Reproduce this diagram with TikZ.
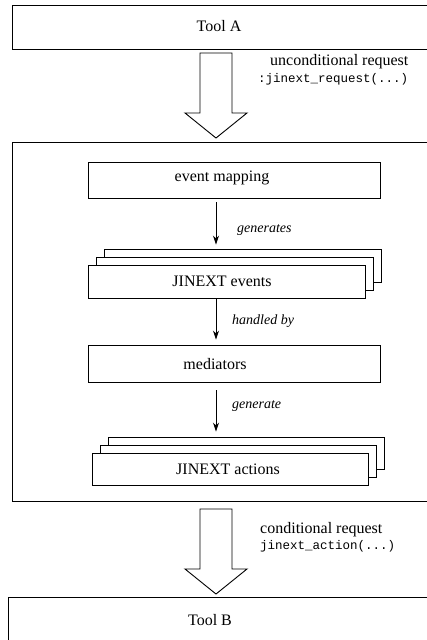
\documentclass[tikz,border=0pt]{standalone}
\usepackage{fontspec}
\setmainfont{Liberation Serif}
\setmonofont{Liberation Mono}
\usetikzlibrary{arrows.meta,calc}

\tikzset{
  box/.style={draw, line width=0.9pt, fill=white, inner sep=0pt},
  boxtext/.style={font=\fontsize{16}{18}\selectfont},
  flow/.style={-{Stealth[length=9pt,width=6pt]}, line width=0.9pt},
  note/.style={font=\fontsize{14}{16}\selectfont\itshape, anchor=west, inner sep=0pt},
  req/.style={font=\fontsize{16}{18}\selectfont, anchor=west, inner sep=0pt},
  code/.style={font=\fontsize{12.5}{14}\selectfont\ttfamily, anchor=west, inner sep=0pt},
  fatarrow/.pic={
    \draw[line width=0.9pt, fill=white, line join=miter]
      (-16,0) -- (-16,60) -- (-31,60) -- (0,85) -- (31,60) -- (16,60) -- (16,0) -- cycle;
  }
}

\begin{document}
\begin{tikzpicture}[x=1pt, y=-1pt]
  \clip (0,0) rectangle (427,640);
  \coordinate (axis) at (216,0);

  % Tool A
  \node[box, minimum width=416pt, minimum height=44pt] (toolA) at (220,27) {};
  \node[boxtext] (toolAtext) at (219,26) {Tool A};

  % unconditional request
  \pic at (216,53) {fatarrow};
  \node[req] (ureq) at (270,62) {unconditional request};
  \node[code] (ureqcode) at (258,79) {:jinext\_request(...)};

  % enclosing component
  \node[box, minimum width=416pt, minimum height=359pt] (core) at (220,321.5) {};

  % event mapping
  \node[box, minimum width=292pt, minimum height=36pt] (em) at (234,180) {};
  \node[boxtext] (emtext) at (222,178) {event mapping};

  % JINEXT events (stack of three)
  \node[box, minimum width=277pt, minimum height=33pt] (evback) at (242.5,265.5) {};
  \node[box, minimum width=277pt, minimum height=33pt] (evmid) at (234.5,273.5) {};
  \node[box, minimum width=277pt, minimum height=33pt] (ev) at (226.5,281.5) {};
  \node[boxtext] (evtext) at (222,281) {JINEXT events};

  % mediators
  \node[box, minimum width=292pt, minimum height=37pt] (med) at (234,363.5) {};
  \node[boxtext] (medtext) at (215,364) {mediators};

  % JINEXT actions (stack of three)
  \node[box, minimum width=276pt, minimum height=32pt] (acback) at (246,453) {};
  \node[box, minimum width=276pt, minimum height=32pt] (acmid) at (238,461) {};
  \node[box, minimum width=276pt, minimum height=32pt] (ac) at (230,469) {};
  \node[boxtext] (actext) at (228,469) {JINEXT actions};

  % internal flow
  \draw[flow, shorten <=4pt, shorten >=4pt] (em.south -| axis) -- (evback.north -| axis);
  \node[note] (l1) at (237,230) {generates};
  \draw[flow, shorten >=5pt] (ev.south -| axis) -- (med.north -| axis);
  \node[note] (l2) at (232,321) {handled by};
  \draw[flow, shorten <=8pt, shorten >=5pt] (med.south -| axis) -- (acback.north -| axis);
  \node[note] (l3) at (232,406) {generate};

  % conditional request
  \pic at (216,509) {fatarrow};
  \node[req] (creq) at (260,530) {conditional request};
  \node[code] (creqcode) at (260,546) {jinext\_action(...)};

  % Tool B
  \node[box, minimum width=422pt, minimum height=63pt] (toolB) at (219,628.5) {};
  \node[boxtext] (toolBtext) at (210,620) {Tool B};
\end{tikzpicture}
\end{document}
